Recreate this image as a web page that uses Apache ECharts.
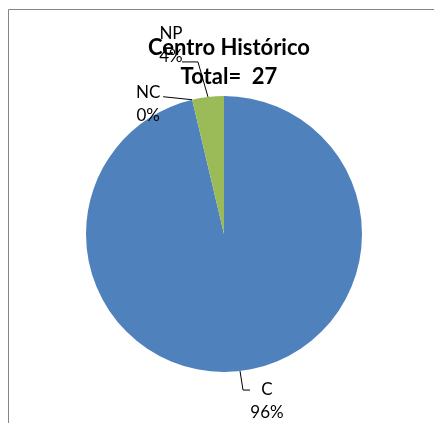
<!DOCTYPE html>
<html>
<head>
<meta charset="utf-8">
<script src="https://cdn.jsdelivr.net/npm/echarts@6/dist/echarts.min.js"></script>
<style>
html,body{margin:0;padding:0;background:#fff;}
#main{width:434px;height:423px;}
</style>
</head>
<body>
<div id="main"></div>
<script>
var titleText = 'Centro Histórico';
var totalLabel = 'Total=  27';
var categories = ['C', 'NC', 'NP'];
var values = [26, 0, 1];
var colors = ['#4F81BD', '#C0504D', '#9BBB59'];

// label offsets relative to the library-computed anchor on the pie edge
var labelOffsets = {
  C:  {label: [27, 30], line: [[3, 19], [10, 19]]},
  NC: {label: [-44, 4], line: [[-29, -3]]},
  NP: {label: [-37, -52], line: [[-10, -35], [-26, -35]]}
};

var chart = echarts.init(document.getElementById('main'));
var data = categories.map(function (c, i) {
  return {name: c, value: values[i], itemStyle: {color: colors[i]}};
});

chart.setOption({
  animation: false,
  backgroundColor: '#fff',
  graphic: [{
    type: 'rect',
    shape: {x: 8.5, y: 9.5, width: 600, height: 600},
    style: {fill: 'none', stroke: '#868686', lineWidth: 1},
    z: -1
  }],
  title: {
    text: titleText + '\n' + totalLabel,
    left: 224,
    textAlign: 'center',
    top: 28,
    z: 20,
    zlevel: 1,
    textStyle: {fontFamily: 'Lato', fontWeight: 'bold', fontSize: 22, lineHeight: 29, color: '#000'}
  },
  series: [{
    type: 'pie',
    center: [224, 234],
    radius: 138,
    startAngle: 90,
    clockwise: true,
    avoidLabelOverlap: false,
    percentPrecision: 0,
    label: {
      show: true,
      position: 'outside',
      formatter: '{b}\n{d}%',
      fontFamily: 'Lato',
      fontSize: 17,
      lineHeight: 23,
      color: '#000',
      align: 'center'
    },
    labelLine: {show: true, length: 5, length2: 5, lineStyle: {color: '#000', width: 1}},
    labelLayout: function (p) {
      var name = categories[p.dataIndex];
      var o = labelOffsets[name];
      var pts = p.labelLinePoints;
      if (!pts || !o) return {};
      var a = pts[0];
      var linePts = [[a[0], a[1]]];
      o.line.forEach(function (d) { linePts.push([a[0] + d[0], a[1] + d[1]]); });
      return {
        x: a[0] + o.label[0],
        y: a[1] + o.label[1],
        align: 'center',
        verticalAlign: 'middle',
        labelLinePoints: linePts
      };
    },
    data: data
  }]
});
</script>
</body>
</html>
